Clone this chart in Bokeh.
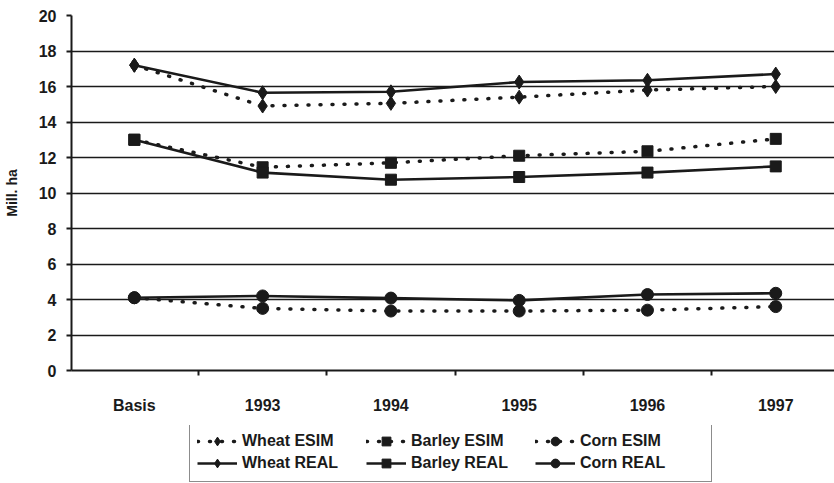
from bokeh.plotting import figure
from bokeh.layouts import column
from bokeh.models import (Range1d, LinearAxis, FixedTicker, Legend, LegendItem)
from bokeh.embed import file_html
from bokeh.resources import INLINE

categories = ["Basis", "1993", "1994", "1995", "1996", "1997"]
wheat_esim = [17.2, 14.9, 15.05, 15.4, 15.8, 16.0]
wheat_real = [17.2, 15.65, 15.7, 16.25, 16.35, 16.7]
barley_esim = [13.0, 11.45, 11.7, 12.1, 12.35, 13.05]
barley_real = [13.0, 11.15, 10.75, 10.9, 11.15, 11.5]
corn_esim = [4.1, 3.5, 3.35, 3.35, 3.4, 3.6]
corn_real = [4.1, 4.2, 4.08, 3.95, 4.28, 4.35]
y_ticks = list(range(0, 21, 2))

xs = list(range(len(categories)))
FONT = "Liberation Sans"
INK = "#1a1a1a"

p = figure(width=834, height=425, output_backend="svg", toolbar_location=None,
           x_range=Range1d(-0.49, 5.458), y_range=Range1d(0, 20),
           x_axis_location=None, y_axis_location=None,
           min_border_left=68, min_border_right=0, min_border_top=15,
           min_border_bottom=55)
p.outline_line_color = None
p.xgrid.visible = False
p.ygrid.ticker = FixedTicker(ticks=y_ticks)
p.ygrid.grid_line_color = INK
p.ygrid.grid_line_width = 1.6

yaxis = LinearAxis(ticker=FixedTicker(ticks=y_ticks), axis_label="Mill. ha")
yaxis.axis_line_width = 2
yaxis.axis_line_color = INK
yaxis.major_tick_line_color = INK
yaxis.major_tick_line_width = 2
yaxis.major_tick_in = 0
yaxis.major_tick_out = 5
yaxis.minor_tick_line_color = None
yaxis.major_label_text_font = FONT
yaxis.major_label_text_font_style = "bold"
yaxis.major_label_text_font_size = "16px"
yaxis.major_label_text_color = INK
yaxis.major_label_standoff = 10
yaxis.axis_label_text_font = FONT
yaxis.axis_label_text_font_style = "bold"
yaxis.axis_label_text_font_size = "14px"
yaxis.axis_label_text_color = INK
yaxis.axis_label_standoff = 16
p.add_layout(yaxis, "left")

# category axis: labels at the categories, tick marks between them
xaxis = LinearAxis(ticker=FixedTicker(ticks=xs,
                                      minor_ticks=[i + 0.5 for i in range(-1, 6)]),
                   major_label_overrides={i: c for i, c in enumerate(categories)})
xaxis.axis_line_width = 2
xaxis.axis_line_color = INK
xaxis.major_tick_line_color = None
xaxis.major_tick_in = 0
xaxis.major_tick_out = 0
xaxis.minor_tick_line_color = INK
xaxis.minor_tick_line_width = 2
xaxis.minor_tick_in = 0
xaxis.minor_tick_out = 5
xaxis.major_label_text_font = FONT
xaxis.major_label_text_font_style = "bold"
xaxis.major_label_text_font_size = "16px"
xaxis.major_label_text_color = INK
xaxis.major_label_standoff = 21
p.add_layout(xaxis, "below")

# order chosen so the 3-column legend reads row-wise like the reference
series = [
    ("Wheat ESIM", wheat_esim, "diamond", 14, True),
    ("Wheat REAL", wheat_real, "diamond", 14, False),
    ("Barley ESIM", barley_esim, "square", 11, True),
    ("Barley REAL", barley_real, "square", 11, False),
    ("Corn ESIM", corn_esim, "circle", 12, True),
    ("Corn REAL", corn_real, "circle", 12, False),
]

# legend lives in a thin strip below the chart (its ranges keep the data out of view)
lf = figure(width=834, height=58, output_backend="svg", toolbar_location=None,
            x_range=Range1d(0, 1), y_range=Range1d(-2, -1),
            x_axis_location=None, y_axis_location=None,
            min_border_left=0, min_border_right=0, min_border_top=0,
            min_border_bottom=0)
lf.outline_line_color = None
lf.grid.visible = False

items = []
for name, vals, marker, size, dotted in series:
    line_kw = dict(line_color=INK, line_width=3.5, line_dash="1 11", line_cap="round") \
        if dotted else dict(line_color=INK, line_width=2.6)
    p.line(xs, vals, **line_kw)
    p.scatter(xs, vals, marker=marker, size=size, fill_color=INK, line_color=INK)
    ln = lf.line(xs, vals, **line_kw)
    sc = lf.scatter(xs, vals, marker=marker, size=size, fill_color=INK, line_color=INK)
    items.append(LegendItem(label=name, renderers=[ln, sc]))

legend = Legend(items=items, ncols=3, location=(118, 1))
legend.label_text_font = FONT
legend.label_text_font_style = "bold"
legend.label_text_font_size = "16px"
legend.label_text_color = INK
legend.label_height = 22
legend.label_width = 124
legend.glyph_height = 22
legend.glyph_width = 40
legend.label_standoff = 5
legend.spacing = 0
legend.padding = 7
legend.margin = 0
legend.border_line_color = INK
legend.border_line_width = 1.5
legend.background_fill_alpha = 1
lf.add_layout(legend, "center")

page = column(p, lf, spacing=0)
open("out.html", "w").write(file_html(page, INLINE))
